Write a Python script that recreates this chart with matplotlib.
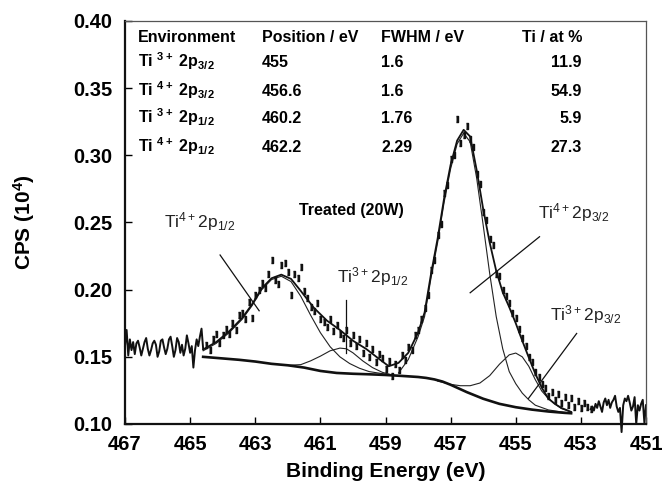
import numpy as np
import matplotlib
matplotlib.use('Agg')
import matplotlib.pyplot as plt

plt.rcParams['font.family'] = ['Liberation Sans', 'DejaVu Sans']
plt.rcParams['mathtext.default'] = 'regular'

# raw spectrum, flat left part (drawn as a line)
left_e = [467.00, 466.95, 466.90, 466.85, 466.80, 466.75, 466.70, 466.65, 466.60, 466.55,
          466.50, 466.45, 466.40, 466.35, 466.30, 466.25, 466.20, 466.15, 466.10, 466.05,
          466.00, 465.95, 465.90, 465.85, 465.80, 465.75, 465.70, 465.65, 465.60, 465.55,
          465.50, 465.45, 465.40, 465.35, 465.30, 465.25, 465.20, 465.15, 465.10, 465.05,
          465.00, 464.95, 464.90, 464.85, 464.80, 464.75, 464.70, 464.65, 464.60]
left_cps = [0.158, 0.170, 0.151, 0.163, 0.155, 0.161, 0.152, 0.160, 0.162, 0.157,
            0.151, 0.156, 0.161, 0.164, 0.156, 0.151, 0.155, 0.160, 0.162, 0.159,
            0.150, 0.154, 0.162, 0.163, 0.157, 0.152, 0.156, 0.163, 0.165, 0.158,
            0.150, 0.155, 0.164, 0.161, 0.153, 0.159, 0.151, 0.156, 0.166, 0.160,
            0.153, 0.158, 0.142, 0.155, 0.163, 0.158, 0.165, 0.171, 0.156]

# raw spectrum, flat right part (drawn as a line)
right_e = [452.70, 452.65, 452.60, 452.55, 452.50, 452.45, 452.40, 452.35, 452.30, 452.25,
           452.20, 452.15, 452.10, 452.05, 452.00, 451.95, 451.90, 451.85, 451.80, 451.75,
           451.70, 451.65, 451.60, 451.55, 451.50, 451.45, 451.40, 451.35, 451.30, 451.25,
           451.20, 451.15, 451.10, 451.05, 451.00]
right_cps = [0.111, 0.113, 0.110, 0.115, 0.112, 0.117, 0.113, 0.109, 0.116, 0.119,
             0.114, 0.118, 0.112, 0.116, 0.118, 0.121, 0.113, 0.109, 0.112, 0.094,
             0.114, 0.119, 0.117, 0.121, 0.116, 0.110, 0.113, 0.120, 0.100, 0.114,
             0.110, 0.115, 0.118, 0.101, 0.114]

# raw spectrum, peak region (drawn as points)
pts_e = [464.5, 464.4, 464.3, 464.2, 464.1, 464.0, 463.9, 463.8, 463.7, 463.6,
         463.5, 463.4, 463.3, 463.2, 463.1, 463.0, 462.9, 462.8, 462.7, 462.6,
         462.5, 462.4, 462.3, 462.2, 462.1, 462.0, 461.9, 461.8, 461.7, 461.6,
         461.5, 461.4, 461.3, 461.2, 461.1, 461.0, 460.9, 460.8, 460.7, 460.6,
         460.5, 460.4, 460.3, 460.2, 460.1, 460.0, 459.9, 459.8, 459.7, 459.6,
         459.5, 459.4, 459.3, 459.2, 459.1, 459.0, 458.9, 458.8, 458.7, 458.6,
         458.5, 458.4, 458.3, 458.2, 458.1, 458.0, 457.9, 457.8, 457.7, 457.6,
         457.5, 457.4, 457.3, 457.2, 457.1, 457.0, 456.9, 456.8, 456.7, 456.6,
         456.5, 456.4, 456.3, 456.2, 456.1, 456.0, 455.9, 455.8, 455.7, 455.6,
         455.5, 455.4, 455.3, 455.2, 455.1, 455.0, 454.9, 454.8, 454.7, 454.6,
         454.5, 454.4, 454.3, 454.2, 454.1, 454.0, 453.9, 453.8, 453.7, 453.6,
         453.5, 453.4, 453.3, 453.2, 453.1, 453.0, 452.9, 452.8, 452.7]
pts_cps = [0.159, 0.155, 0.163, 0.167, 0.160, 0.166, 0.171, 0.167, 0.175, 0.170,
           0.181, 0.183, 0.178, 0.191, 0.179, 0.196, 0.200, 0.205, 0.201, 0.212,
           0.222, 0.207, 0.204, 0.218, 0.220, 0.213, 0.196, 0.212, 0.209, 0.217,
           0.199, 0.194, 0.187, 0.184, 0.190, 0.178, 0.176, 0.172, 0.178, 0.169,
           0.174, 0.167, 0.164, 0.170, 0.160, 0.166, 0.158, 0.163, 0.153, 0.160,
           0.150, 0.156, 0.146, 0.152, 0.149, 0.141, 0.147, 0.136, 0.145, 0.140,
           0.151, 0.148, 0.157, 0.155, 0.166, 0.170, 0.178, 0.186, 0.196, 0.215,
           0.222, 0.241, 0.249, 0.272, 0.278, 0.297, 0.300, 0.327, 0.309, 0.315,
           0.322, 0.312, 0.306, 0.286, 0.279, 0.258, 0.252, 0.238, 0.233, 0.212,
           0.210, 0.200, 0.195, 0.190, 0.183, 0.179, 0.171, 0.164, 0.158, 0.150,
           0.146, 0.139, 0.135, 0.130, 0.127, 0.121, 0.124, 0.118, 0.122, 0.116,
           0.120, 0.114, 0.119, 0.113, 0.117, 0.112, 0.116, 0.113, 0.111]

# fitted envelope
env_e = [464.6, 464.2, 463.8, 463.4, 463.1, 462.8, 462.5, 462.2, 461.9, 461.6,
         461.2, 460.8, 460.4, 460.0, 459.6, 459.2, 458.9, 458.6, 458.3, 458.0,
         457.8, 457.6, 457.4, 457.2, 457.0, 456.8, 456.6, 456.4, 456.2, 456.0,
         455.8, 455.6, 455.4, 455.2, 455.0, 454.8, 454.6, 454.4, 454.2, 454.0,
         453.8, 453.6, 453.3]
env_cps = [0.1555, 0.161, 0.169, 0.179, 0.189, 0.201, 0.2085, 0.2112, 0.208, 0.199,
           0.1865, 0.177, 0.170, 0.162, 0.156, 0.1485, 0.143, 0.1455, 0.153, 0.168,
           0.183, 0.212, 0.238, 0.268, 0.293, 0.311, 0.319, 0.314, 0.289, 0.260,
           0.235, 0.214, 0.198, 0.187, 0.175, 0.162, 0.1495, 0.1375, 0.127, 0.119,
           0.115, 0.112, 0.109]

# Shirley background
bg_e = [464.6, 464.0, 463.5, 463.0, 462.5, 462.0, 461.5, 461.0, 460.5, 460.0,
        459.5, 459.0, 458.5, 458.0, 457.75, 457.5, 457.25, 457.0, 456.5, 456.0,
        455.5, 455.0, 454.5, 454.0, 453.5, 453.3]
bg_cps = [0.150, 0.1488, 0.1478, 0.1465, 0.1448, 0.1437, 0.1420, 0.1395, 0.1380, 0.1374,
          0.1370, 0.1365, 0.1358, 0.1350, 0.1343, 0.1332, 0.1316, 0.1292, 0.1237, 0.1188,
          0.1150, 0.1125, 0.1107, 0.1093, 0.1083, 0.1080]

# components (on top of background)
ti4_12_e = [464.6, 464.2, 463.8, 463.4, 463.1, 462.8, 462.5, 462.2, 461.9, 461.6,
            461.3, 461.0, 460.7, 460.4, 460.1, 459.8, 459.5, 459.1, 458.8]
ti4_12_cps = [0.1545, 0.160, 0.168, 0.178, 0.188, 0.200, 0.2075, 0.2100, 0.2060, 0.1950,
              0.1810, 0.1680, 0.1575, 0.1500, 0.1450, 0.1415, 0.1390, 0.1375, 0.1365]

ti3_12_e = [462.0, 461.6, 461.3, 461.0, 460.7, 460.4, 460.2, 460.0, 459.7, 459.4,
            459.1, 458.8]
ti3_12_cps = [0.1437, 0.1442, 0.1470, 0.1505, 0.1545, 0.1565, 0.1560, 0.1530, 0.1470, 0.1420,
              0.1385, 0.1365]

ti4_32_e = [458.6, 458.3, 458.0, 457.8, 457.6, 457.4, 457.2, 457.0, 456.8, 456.6,
            456.4, 456.2, 456.0, 455.8, 455.6, 455.4, 455.2, 455.0, 454.8, 454.6,
            454.4, 454.0, 453.6, 453.3]
ti4_32_cps = [0.1380, 0.1480, 0.1650, 0.1800, 0.2090, 0.2350, 0.2650, 0.2900, 0.3085, 0.3165,
              0.3100, 0.2830, 0.2480, 0.2120, 0.1800, 0.1560, 0.1390, 0.1300, 0.1230, 0.1180,
              0.1140, 0.1105, 0.1090, 0.1080]

ti3_32_e = [457.4, 457.0, 456.7, 456.4, 456.1, 455.8, 455.5, 455.2, 455.0, 454.8,
            454.6, 454.4, 454.2, 454.0, 453.8, 453.6, 453.3]
ti3_32_cps = [0.1320, 0.1295, 0.1285, 0.1285, 0.1305, 0.1360, 0.1445, 0.1515, 0.1528, 0.1500,
              0.1430, 0.1330, 0.1245, 0.1190, 0.1150, 0.1115, 0.1090]

# table of fit results
env_names = ['Ti $^{3+}$ 2p$_{3/2}$', 'Ti $^{4+}$ 2p$_{3/2}$', 'Ti $^{3+}$ 2p$_{1/2}$', 'Ti $^{4+}$ 2p$_{1/2}$']
positions = ['455', '456.6', '460.2', '462.2']
fwhm = ['1.6', '1.6', '1.76', '2.29']
at_pct = ['11.9', '54.9', '5.9', '27.3']

W, H = 666, 488
fig = plt.figure(figsize=(W / 100, H / 100), dpi=100)
ax = fig.add_axes([125 / W, 1 - 424 / H, 521 / W, 403 / H])

for ce, cy in [(ti4_12_e, ti4_12_cps), (ti3_12_e, ti3_12_cps),
               (ti4_32_e, ti4_32_cps), (ti3_32_e, ti3_32_cps)]:
    ax.plot(ce, cy, color='#222222', lw=0.8)
ax.plot(env_e, env_cps, color='#111111', lw=1.3)
ax.plot(bg_e, bg_cps, color='#111111', lw=1.9)
ax.plot(left_e, left_cps, color='#111111', lw=1.4, clip_on=False)
ax.plot(right_e, right_cps, color='#111111', lw=1.4, clip_on=False)
dash = [(-0.45, -1), (0.45, -1), (0.45, 1), (-0.45, 1)]
ax.plot(pts_e, pts_cps, ls='none', marker=dash, ms=4.5, color='#111111')

ax.set_xlim(467, 451)
ax.set_ylim(0.10, 0.40)
ax.set_xticks(range(467, 450, -2))
ax.set_yticks([0.10, 0.15, 0.20, 0.25, 0.30, 0.35, 0.40])
ax.yaxis.set_major_formatter('{x:.2f}')
ax.tick_params(direction='in', length=5, width=1, labelsize=14.5, top=False, right=False)
ax.tick_params(axis='y', pad=9)
ax.tick_params(axis='x', pad=8)
for lab in ax.get_xticklabels() + ax.get_yticklabels():
    lab.set_fontweight('bold')
for s in ['left', 'bottom']:
    ax.spines[s].set_linewidth(1.6)
    ax.spines[s].set_color('#111111')
for s in ['top', 'right']:
    ax.spines[s].set_linewidth(0.9)
    ax.spines[s].set_color('#555555')

ax.set_xlabel('Binding Energy (eV)', fontsize=15, fontweight='bold', labelpad=6)
ax.set_ylabel('CPS (10$^4$)', fontsize=15, fontweight='bold', labelpad=26)

# table
def fx(px):
    return px / W

def fy(py):
    return 1 - py / H

tkw = dict(fontsize=11.5, fontweight='bold', va='baseline')
row_y = [66.7, 96.0, 123.3, 151.7]
fig.text(fx(138), fy(41.7), 'Environment', **tkw)
fig.text(fx(262), fy(41.7), 'Position / eV', **tkw)
fig.text(fx(381), fy(41.7), 'FWHM / eV', **tkw)
fig.text(fx(582), fy(41.7), 'Ti / at %', ha='right', **tkw)
for i in range(4):
    fig.text(fx(138), fy(row_y[i]), env_names[i], **tkw)
    fig.text(fx(262), fy(row_y[i]), positions[i], **tkw)
    fig.text(fx(381), fy(row_y[i]), fwhm[i], **tkw)
    fig.text(fx(582), fy(row_y[i]), at_pct[i], ha='right', **tkw)

fig.text(fx(351), fy(210), 'Treated (20W)', fontsize=11.5, fontweight='bold', ha='center', va='center')

# peak labels with leader lines
labels = [
    ('Ti$^{4+}$2p$_{1/2}$', (200, 222), (464.08, 0.2258), (462.88, 0.1843)),
    ('Ti$^{3+}$2p$_{1/2}$', (373, 277), (460.22, 0.1923), (460.22, 0.1526)),
    ('Ti$^{4+}$2p$_{3/2}$', (574, 213), (454.27, 0.2394), (456.40, 0.1977)),
    ('Ti$^{3+}$2p$_{3/2}$', (586, 315), (453.13, 0.1674), (454.61, 0.1190)),
]
for txt, (tx, ty), p0, p1 in labels:
    fig.text(fx(tx), fy(ty), txt, fontsize=12.5, ha='center', va='center', color='#222222')
    ax.plot([p0[0], p1[0]], [p0[1], p1[1]], color='#111111', lw=0.9)

fig.savefig('out.png', dpi=100)
